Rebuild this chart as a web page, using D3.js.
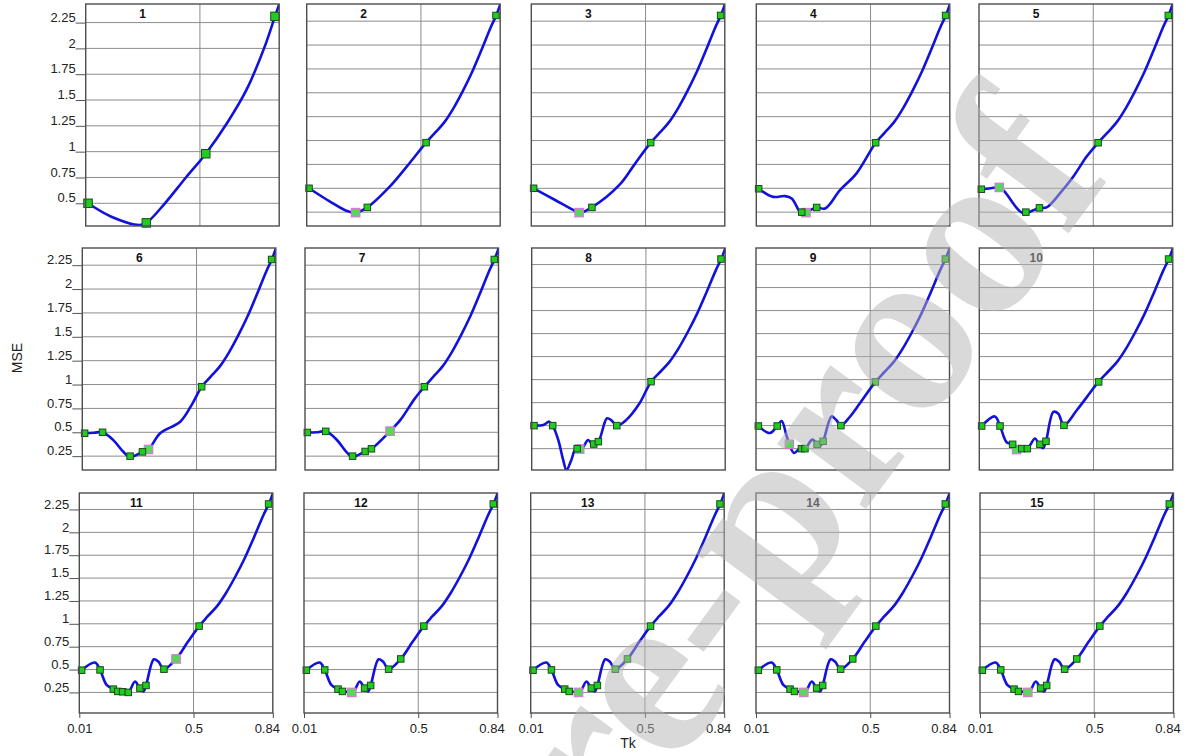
<!DOCTYPE html>
<html><head><meta charset="utf-8">
<script src="https://cdn.jsdelivr.net/npm/d3@7"></script>
<style>body{margin:0;background:#fff} svg{display:block}</style>
</head><body><svg id="c" width="1186" height="756"></svg>
<script>
// ---------- data ----------
const panelTitles = ["1","2","3","4","5","6","7","8","9","10","11","12","13","14","15"];
const xTicks = [0.01, 0.5, 0.84];
const yTicks = [0.25, 0.5, 0.75, 1, 1.25, 1.5, 1.75, 2, 2.25];
const yLow = [0.28, 0.105, 0.105, 0.105, 0.105, 0.105, 0.105, 0.018, 0.018, 0.018, 0.025, 0.025, 0.025, 0.025, 0.025];
const yHigh = 2.43;

// shared upper branch of the curve (panels 2-15)
const tail = [[0.56,1.08],[0.60,1.19],[0.64,1.34],[0.68,1.52],[0.72,1.72],[0.76,1.95],[0.80,2.19],[0.823,2.31],[0.845,2.46]];

const curve01 = [[0.02,0.50],[0.12,0.37],[0.24,0.29],[0.27,0.31],[0.35,0.50],[0.44,0.75],[0.525,0.98],[0.62,1.29],[0.70,1.60],[0.775,2.0],[0.822,2.31],[0.845,2.46]];
const knots01 = [[0.02,0.50],[0.27,0.31],[0.525,0.98],[0.822,2.31]];
const picked01 = [];

const curve02 = [[0.02,0.50],[0.11,0.36],[0.18,0.265],[0.22,0.245],[0.27,0.30],[0.367,0.52],[0.44,0.73],[0.522,0.978]];
const knots02 = [[0.02,0.50],[0.27,0.30],[0.522,0.978],[0.822,2.31]];
const picked02 = [[0.22,0.245]];

const curve03 = [[0.02,0.50],[0.11,0.38],[0.20,0.26],[0.22,0.245],[0.27,0.30],[0.39,0.54],[0.45,0.74],[0.522,0.978]];
const knots03 = [[0.02,0.50],[0.27,0.30],[0.522,0.978],[0.822,2.31]];
const picked03 = [[0.215,0.245]];

const curve04 = [[0.02,0.495],[0.083,0.41],[0.133,0.418],[0.162,0.393],[0.197,0.253],[0.21,0.236],[0.223,0.247],[0.269,0.299],[0.305,0.288],[0.369,0.48],[0.44,0.656],[0.522,0.977]];
const knots04 = [[0.02,0.495],[0.205,0.25],[0.269,0.299],[0.522,0.977],[0.822,2.31]];
const picked04 = [[0.223,0.245]];

const curve05 = [[0.02,0.49],[0.06,0.50],[0.097,0.509],[0.125,0.45],[0.157,0.34],[0.185,0.26],[0.207,0.236],[0.243,0.27],[0.269,0.295],[0.30,0.30],[0.357,0.446],[0.414,0.62],[0.471,0.83],[0.521,0.977]];
const knots05 = [[0.02,0.49],[0.211,0.25],[0.269,0.295],[0.521,0.977],[0.822,2.31]];
const picked05 = [[0.097,0.509]];

const curve06 = [[0.02,0.49],[0.06,0.495],[0.097,0.50],[0.143,0.418],[0.186,0.296],[0.215,0.24],[0.268,0.295],[0.294,0.32],[0.344,0.49],[0.43,0.61],[0.48,0.79],[0.522,0.977]];
const knots06 = [[0.02,0.49],[0.097,0.50],[0.215,0.25],[0.268,0.295],[0.522,0.977],[0.822,2.31]];
const picked06 = [[0.294,0.32]];

const curve07 = [[0.02,0.498],[0.06,0.50],[0.099,0.51],[0.145,0.425],[0.191,0.285],[0.214,0.243],[0.268,0.299],[0.295,0.327],[0.375,0.512],[0.421,0.635],[0.48,0.85],[0.522,0.977]];
const knots07 = [[0.02,0.498],[0.099,0.51],[0.214,0.25],[0.268,0.299],[0.295,0.327],[0.522,0.977],[0.822,2.31]];
const picked07 = [[0.375,0.512]];

const curve08 = [[0.02,0.50],[0.06,0.507],[0.085,0.543],[0.10,0.50],[0.124,0.344],[0.145,0.127],[0.159,0.018],[0.18,0.127],[0.199,0.254],[0.216,0.25],[0.23,0.264],[0.252,0.344],[0.273,0.29],[0.296,0.326],[0.333,0.58],[0.351,0.56],[0.375,0.50],[0.415,0.56],[0.472,0.74],[0.522,0.978]];
const knots08 = [[0.02,0.50],[0.10,0.50],[0.205,0.25],[0.276,0.30],[0.296,0.326],[0.375,0.50],[0.522,0.978],[0.822,2.31]];
const picked08 = [[0.216,0.246]];

const curve09 = [[0.02,0.496],[0.07,0.42],[0.101,0.496],[0.12,0.55],[0.14,0.40],[0.153,0.297],[0.173,0.203],[0.198,0.25],[0.22,0.25],[0.252,0.348],[0.272,0.297],[0.283,0.275],[0.298,0.33],[0.334,0.60],[0.355,0.558],[0.374,0.50],[0.412,0.594],[0.455,0.74],[0.522,0.975]];
const knots09 = [[0.02,0.496],[0.101,0.496],[0.205,0.25],[0.22,0.25],[0.272,0.297],[0.298,0.33],[0.374,0.50],[0.522,0.975],[0.822,2.31]];
const picked09 = [[0.153,0.297]];

const curve10 = [[0.02,0.496],[0.077,0.60],[0.099,0.496],[0.127,0.32],[0.153,0.297],[0.17,0.24],[0.192,0.25],[0.216,0.25],[0.249,0.36],[0.265,0.30],[0.283,0.255],[0.296,0.33],[0.328,0.649],[0.349,0.63],[0.373,0.503],[0.428,0.667],[0.471,0.81],[0.521,0.975]];
const knots10 = [[0.02,0.496],[0.099,0.496],[0.153,0.297],[0.192,0.25],[0.216,0.25],[0.27,0.297],[0.296,0.33],[0.373,0.503],[0.522,0.975],[0.822,2.31]];
const picked10 = [[0.17,0.24]];

const curve11 = [[0.02,0.493],[0.077,0.576],[0.099,0.496],[0.127,0.333],[0.156,0.286],[0.175,0.261],[0.196,0.257],[0.22,0.25],[0.249,0.37],[0.268,0.30],[0.285,0.26],[0.296,0.326],[0.33,0.612],[0.349,0.587],[0.373,0.504],[0.425,0.616],[0.475,0.80],[0.524,0.975]];
const knots11 = [[0.02,0.493],[0.099,0.496],[0.156,0.286],[0.175,0.261],[0.196,0.257],[0.22,0.25],[0.27,0.297],[0.296,0.326],[0.373,0.504],[0.524,0.975],[0.822,2.31]];
const picked11 = [[0.425,0.616]];

const curve12 = [[0.02,0.493],[0.077,0.576],[0.099,0.496],[0.127,0.333],[0.156,0.286],[0.175,0.261],[0.196,0.257],[0.22,0.25],[0.249,0.37],[0.268,0.30],[0.285,0.26],[0.296,0.326],[0.33,0.612],[0.349,0.587],[0.373,0.504],[0.425,0.616],[0.475,0.80],[0.524,0.975]];
const knots12 = [[0.02,0.493],[0.099,0.496],[0.156,0.286],[0.175,0.261],[0.27,0.297],[0.296,0.326],[0.373,0.504],[0.425,0.616],[0.524,0.975],[0.822,2.31]];
const picked12 = [[0.215,0.25]];

const curve13 = curve12.slice();
const knots13 = knots12.slice();
const picked13 = [[0.215,0.25]];

const curve14 = curve12.slice();
const knots14 = knots12.slice();
const picked14 = [[0.215,0.25]];

const curve15 = curve12.slice();
const knots15 = knots12.slice();
const picked15 = [[0.215,0.25]];

// ---------- layout ----------
const rowTop = [4, 248, 493];
const rowH = [222, 222, 220];
const colLeft = [[85.7, 306.7, 531.3, 756.3, 979], [82.3, 305, 531.7, 756, 979.3], [79.3, 304, 530.7, 756, 980]];
const PW = 193.5;
const FONT = "'Liberation Sans', Arial, sans-serif";

const curves = [curve01,curve02,curve03,curve04,curve05,curve06,curve07,curve08,curve09,curve10,curve11,curve12,curve13,curve14,curve15];
const knots = [knots01,knots02,knots03,knots04,knots05,knots06,knots07,knots08,knots09,knots10,knots11,knots12,knots13,knots14,knots15];
const picked = [picked01,picked02,picked03,picked04,picked05,picked06,picked07,picked08,picked09,picked10,picked11,picked12,picked13,picked14,picked15];

const svg = d3.select('#c');
svg.append('rect').attr('width',1186).attr('height',756).attr('fill','#fff');
const defs = svg.append('defs');

panelTitles.forEach((title, i) => {
  const row = Math.floor(i / 5), col = i % 5;
  const left = colLeft[row][col], top = rowTop[row], H = rowH[row];
  const x = d3.scaleLinear().domain([0.01, 0.84]).range([0, PW]);
  const y = d3.scaleLinear().domain([yLow[i], yHigh]).range([H, 0]);
  const g = svg.append('g').attr('transform', `translate(${left},${top})`);

  defs.append('clipPath').attr('id', 'clip' + i)
    .append('rect').attr('x', 0).attr('y', 0).attr('width', PW).attr('height', H);

  const vis = yTicks.filter(v => v > yLow[i] && v < yHigh);
  g.selectAll('.hg').data(vis).join('line')
    .attr('x1', 0).attr('x2', PW).attr('y1', d => y(d)).attr('y2', d => y(d))
    .attr('stroke', '#8c8c8c').attr('stroke-width', 1);
  g.selectAll('.vg').data(xTicks.filter(v => v > 0.01 && v < 0.84)).join('line')
    .attr('x1', d => x(d)).attr('x2', d => x(d)).attr('y1', 0).attr('y2', H)
    .attr('stroke', '#8c8c8c').attr('stroke-width', 1);

  const line = d3.line().x(d => x(d[0])).y(d => y(d[1])).curve(d3.curveCatmullRom.alpha(0.5));
  const pts = i === 0 ? curves[i] : curves[i].concat(tail);
  g.append('path').attr('d', line(pts)).attr('fill', 'none')
    .attr('stroke', '#1212dc').attr('stroke-width', 2.6).attr('stroke-linejoin', 'round')
    .attr('clip-path', `url(#clip${i})`);

  const ms = i === 0 ? 8.5 : 6.5;
  const ps = 8.5;
  g.selectAll('.pk').data(picked[i]).join('rect')
    .attr('x', d => x(d[0]) - ps / 2).attr('y', d => y(d[1]) - ps / 2)
    .attr('width', ps).attr('height', ps)
    .attr('fill', '#5ad65a').attr('stroke', '#e36ee3').attr('stroke-width', 1.1);
  g.selectAll('.kn').data(knots[i]).join('rect')
    .attr('x', d => x(d[0]) - ms / 2).attr('y', d => y(d[1]) - ms / 2)
    .attr('width', ms).attr('height', ms)
    .attr('fill', '#1fcc1f').attr('stroke', '#1c4a1c').attr('stroke-width', 1);

  g.append('rect').attr('x', 0).attr('y', 0).attr('width', PW).attr('height', H)
    .attr('fill', 'none').attr('stroke', '#4d4d4d').attr('stroke-width', 1.4);

  g.append('text').attr('x', 57).attr('y', 13.5).attr('text-anchor', 'middle')
    .attr('font-family', FONT).attr('font-weight', 'bold').attr('font-size', 12)
    .attr('fill', '#111').text(title);

  if (col === 0) {
    const ax = g.append('g').call(d3.axisLeft(y).tickValues(vis).tickSize(10).tickPadding(0).tickFormat(d => String(d)));
    ax.select('.domain').remove();
    ax.selectAll('line').attr('stroke', '#555');
    ax.selectAll('text').attr('dy', '-0.1em').attr('font-family', FONT).attr('font-size', 13).attr('fill', '#222');
  }
  if (row === 2) {
    const ax = g.append('g').attr('transform', `translate(0,${H})`)
      .call(d3.axisBottom(x).tickValues(xTicks).tickSize(5).tickPadding(5.5).tickFormat(d => String(d)));
    ax.select('.domain').remove();
    ax.selectAll('line').attr('stroke', '#4d4d4d');
    ax.selectAll('text').attr('font-family', FONT).attr('font-size', 13).attr('fill', '#222')
      .attr('dx', d => d === 0.84 ? -6 : 0);
  }
});

svg.append('text').attr('transform', 'translate(22,358) rotate(-90)').attr('text-anchor', 'middle')
  .attr('font-family', FONT).attr('font-size', 14).attr('fill', '#222').text('MSE');
svg.append('text').attr('x', 628).attr('y', 748).attr('text-anchor', 'middle')
  .attr('font-family', FONT).attr('font-size', 14).attr('fill', '#222').text('Tk');

// watermark
svg.append('text').attr('transform', 'translate(1112,174) rotate(-53.7)').attr('text-anchor', 'end')
  .attr('font-family', "'Liberation Serif', 'DejaVu Serif', serif").attr('font-weight', 'bold')
  .attr('font-size', 240).attr('fill', '#b4b4b4').attr('fill-opacity', 0.5)
  .text('Journal Pre-proof');
</script></body></html>
